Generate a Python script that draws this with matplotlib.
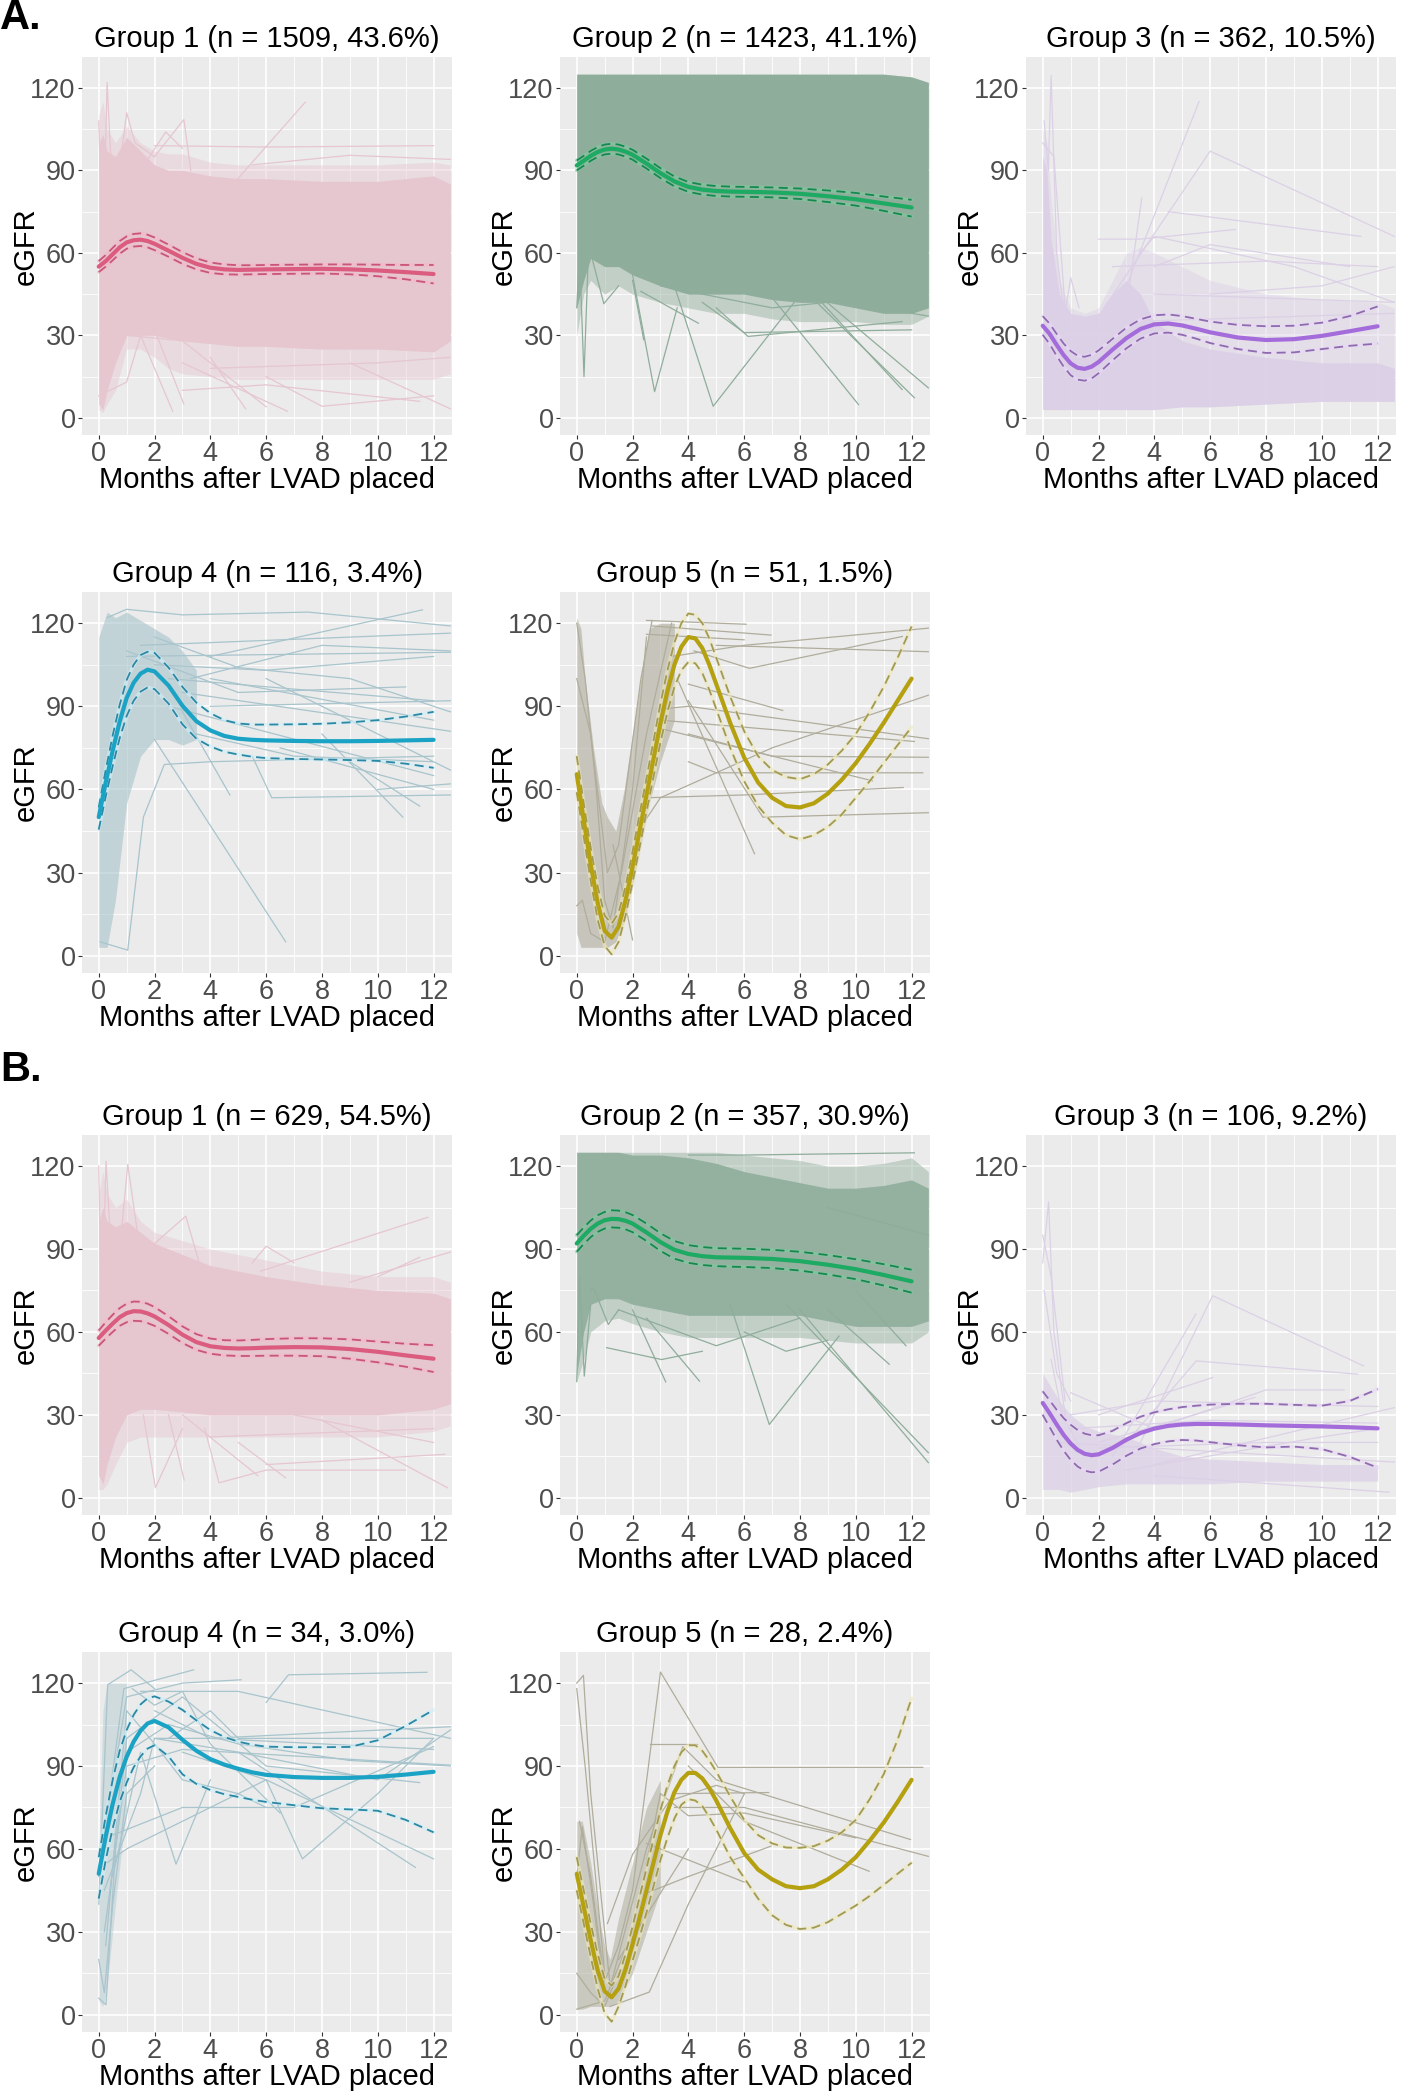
import matplotlib
matplotlib.use("Agg")
import matplotlib.pyplot as plt

plt.rcParams['font.family'] = ['Liberation Sans', 'DejaVu Sans']

# month grids for the fitted curves
months = [0, 0.25, 0.5, 0.75, 1, 1.25, 1.5, 1.75, 2, 2.5, 3, 3.5, 4, 4.5, 5, 5.5, 6, 7, 8, 9, 10, 11, 12]
months_g5 = [0, 0.25, 0.5, 0.75, 1, 1.25, 1.5, 1.75, 2, 2.25, 2.5, 2.75, 3, 3.25, 3.5, 3.75, 4, 4.25,
             4.5, 4.75, 5, 5.5, 6, 6.5, 7, 7.5, 8, 8.5, 9, 9.5, 10, 10.5, 11, 11.5, 12]

# ---------------- cohort A ----------------
a1_mean = [55, 57, 59.5, 62, 63.8, 64.6, 64.8, 64.3, 63.3, 60.8, 58.2, 56, 54.6, 54, 53.8, 53.9, 54, 54.1, 54.2, 54, 53.6, 53, 52.3]
a1_upper = [57, 59.2, 61.8, 64.3, 66, 66.9, 67.1, 66.6, 65.6, 63, 60.3, 58, 56.5, 55.8, 55.5, 55.5, 55.6, 55.7, 55.8, 55.8, 55.7, 55.6, 55.6]
a1_lower = [53, 55, 57.3, 59.7, 61.5, 62.3, 62.5, 62, 61, 58.6, 56, 54, 52.7, 52.2, 52.1, 52.2, 52.3, 52.4, 52.5, 52.2, 51.5, 50.4, 48.9]

a2_mean = [91.8, 93.5, 95.3, 96.7, 97.6, 97.9, 97.6, 96.8, 95.7, 92.5, 89, 86, 84, 83, 82.5, 82.3, 82.2, 82, 81.5, 80.6, 79.5, 78, 76.5]
a2_upper = [93.6, 95.3, 97.1, 98.5, 99.4, 99.7, 99.4, 98.6, 97.5, 94.3, 90.8, 87.8, 85.8, 84.8, 84.3, 84.1, 84, 83.8, 83.4, 82.7, 81.8, 80.5, 79.3]
a2_lower = [90, 91.7, 93.5, 94.9, 95.8, 96.1, 95.8, 95, 93.9, 90.7, 87.2, 84.2, 82.2, 81.2, 80.7, 80.5, 80.4, 80.2, 79.6, 78.5, 77.2, 75.3, 73.2]

a3_mean = [33.5, 30.5, 26.5, 22.8, 19.8, 18.2, 17.8, 18.6, 20.3, 24.8, 29, 32.3, 34, 34.3, 33.6, 32.4, 31.1, 29.2, 28.3, 28.6, 29.8, 31.5, 33.3]
a3_upper = [37, 34.2, 30.5, 27, 24.3, 22.6, 22.2, 22.9, 24.5, 28.7, 32.8, 35.8, 37.3, 37.6, 37, 36, 35, 33.8, 33.3, 33.5, 34.6, 37, 40.5]
a3_lower = [30.2, 26.8, 22.5, 18.6, 15.5, 13.9, 13.5, 14.3, 16.2, 20.9, 25.3, 28.8, 30.7, 31, 30.2, 28.8, 27.2, 25, 23.6, 23.8, 25, 26.2, 27]

a4_mean = [50, 62.5, 74, 84.5, 93, 98.5, 101.8, 103.2, 102.6, 97.5, 90.2, 84.6, 81.3, 79.3, 78.3, 77.9, 77.7, 77.5, 77.4, 77.4, 77.5, 77.7, 77.9]
a4_upper = [53.5, 67, 79.5, 90.5, 99.5, 105, 108.5, 109.7, 109.3, 104, 97, 91.3, 87.5, 85, 83.8, 83.4, 83.4, 83.5, 83.7, 84.2, 85, 86.3, 88]
a4_lower = [45.5, 57.5, 68.5, 78.5, 86.5, 92, 95.3, 96.8, 96.2, 91, 83.5, 78.3, 75.5, 73.6, 72.6, 71.8, 71.3, 71, 70.8, 70.6, 70.3, 69.3, 67.8]

a5_mean = [65.5, 49, 33, 19, 9, 6.5, 10.5, 20, 32, 45, 58, 71, 84, 95.5, 105, 111.5, 115, 114.5,
           111, 105, 98, 84, 71.5, 62.5, 57, 54, 53.5, 55, 58.5, 63.5, 69.5, 76.5, 84, 92, 100]
a5_upper = [72, 55, 39, 25, 14.5, 11.5, 15.5, 25, 37.5, 51, 64, 77.5, 91, 103, 113, 120, 123.5, 123,
            120, 114.5, 107.5, 93.5, 81, 72, 67, 64.5, 63.7, 65.5, 69, 74, 80, 88, 97, 107.5, 118.8]
a5_lower = [59, 43, 27, 13, 3.5, 0.5, 5, 14.5, 26.5, 39, 52, 64.5, 77, 88, 97, 103, 106, 105.5,
            102, 96, 89, 75, 63, 54, 48, 43.5, 42, 43.5, 46.5, 51, 57, 63, 69.5, 76, 82.5]

# ---------------- cohort B ----------------
b1_mean = [57.8, 60.5, 63, 65.3, 66.8, 67.5, 67.4, 66.7, 65.6, 62.5, 59, 56.3, 54.8, 54.2, 54, 54.1, 54.3, 54.5, 54.4, 53.8, 52.8, 51.5, 50.3]
b1_upper = [60.5, 63.5, 66.2, 68.6, 70.2, 71, 70.9, 70.2, 69, 65.7, 62, 59.2, 57.6, 57, 56.9, 57.1, 57.4, 57.7, 57.7, 57.3, 56.5, 55.7, 55.2]
b1_lower = [55, 57.6, 60, 62.2, 63.5, 64, 63.9, 63.2, 62.2, 59.3, 56, 53.5, 52.1, 51.5, 51.3, 51.3, 51.4, 51.4, 51.2, 50.3, 49, 47.4, 45.5]

b2_mean = [92, 94.8, 97.3, 99.2, 100.4, 100.9, 100.8, 100.2, 99.2, 96, 92.5, 89.7, 88.2, 87.4, 87, 86.9, 86.8, 86.4, 85.6, 84.3, 82.7, 80.6, 78.3]
b2_upper = [95, 97.8, 100.3, 102.2, 103.4, 104, 103.9, 103.3, 102.3, 99.2, 95.7, 92.9, 91.4, 90.7, 90.3, 90.2, 90.1, 89.7, 89, 87.8, 86.3, 84.5, 82.5]
b2_lower = [89, 91.8, 94.3, 96.2, 97.4, 97.8, 97.7, 97.1, 96.1, 92.9, 89.3, 86.5, 85, 84.2, 83.8, 83.6, 83.5, 83.1, 82.2, 80.8, 79.1, 76.8, 74.2]

b3_mean = [34.3, 30.5, 26.5, 22.7, 19.6, 17.3, 15.9, 15.4, 15.7, 18, 21, 23.4, 25, 26, 26.5, 26.7, 26.7, 26.5, 26.2, 26, 25.8, 25.5, 25.1]
b3_upper = [38.5, 35.2, 31.8, 28.8, 26.4, 24.5, 23.2, 22.6, 22.6, 24.2, 27, 29.3, 30.9, 32, 32.8, 33.3, 33.7, 34, 34, 33.6, 33.3, 35, 39.3]
b3_lower = [30, 25.5, 21, 17, 13.7, 11.3, 9.8, 9.2, 9.4, 12, 15.2, 17.8, 19.4, 20.4, 20.9, 20.7, 20.1, 19, 18.2, 18.5, 17.6, 14.8, 10.9]

b4_mean = [51, 64.5, 76.3, 86, 93.3, 98.8, 102.8, 105.4, 106.3, 104, 99.5, 95.5, 92.5, 90.5, 89, 87.7, 86.8, 86, 85.7, 85.7, 86.1, 86.9, 87.9]
b4_upper = [57, 72, 85, 95.5, 103, 108.5, 112.3, 114.5, 115.2, 113.3, 110.3, 106.5, 103, 100.5, 98.8, 97.7, 97, 96.8, 96.8, 96.9, 99.3, 104.5, 110.3]
b4_lower = [42, 56, 67.5, 77, 84, 89.5, 93.5, 96.3, 97.5, 93.5, 87, 83.5, 81.3, 79.8, 78.8, 77.8, 77, 75.8, 74.7, 74.3, 73.8, 70.5, 66]

b5_mean = [51, 39, 27, 16, 8.5, 6.3, 9.5, 16.5, 25.5, 35, 45, 55, 65, 73.5, 80.5, 85, 87.5, 87.5,
           85.5, 82, 77.5, 67.5, 58.5, 52.5, 49, 46.5, 45.8, 46.5, 49, 52.5, 57, 63, 69.5, 77, 85]
b5_upper = [57, 45, 33, 22, 13, 10.5, 14, 22, 32, 42.5, 53, 63.5, 74, 83, 90, 95, 97.5, 97.5,
            95.5, 92, 88, 79, 70.5, 65, 62, 60.5, 60.4, 61, 63, 66, 70.5, 78, 87, 99.5, 114.5]
b5_lower = [45, 33, 21, 9.5, 0.5, -2.5, 3, 10.5, 19.5, 28, 37, 46.5, 56, 64, 71, 76, 78, 77.5,
            75.5, 71.5, 67, 57, 49.5, 42, 36, 32.5, 31, 31.5, 33.5, 36.5, 39.5, 43, 47, 51, 55]

# dense mass of individual trajectories: core, and a sparser fringe
a1_band_x = [0, 0.15, 0.3, 0.6, 1, 1.5, 2, 2.5, 3, 4, 5, 6, 8, 10, 12, 12.6]
a1_band_lo = [5, 3, 10, 20, 30, 30, 30, 29, 28, 27, 26, 26, 25, 25, 24, 28]
a1_band_hi = [100, 103, 97, 95, 102, 97, 92, 90, 90, 88, 87, 87, 86, 86, 88, 85]
a1_fringe_lo = [3, 2, 5, 10, 25, 25, 22, 18, 16, 15, 14, 14, 14, 14, 14, 16]
a1_fringe_hi = [110, 115, 105, 100, 106, 100, 97, 96, 96, 93, 92, 92, 92, 92, 93, 92]

a2_band_x = [0, 0.25, 0.5, 1, 1.5, 2, 3, 4, 5, 6, 7, 8, 9, 10, 11, 12, 12.6]
a2_band_lo = [40, 50, 58, 55, 55, 52, 48, 45, 45, 45, 43, 42, 42, 40, 38, 38, 40]
a2_band_hi = [125, 125, 125, 125, 125, 125, 125, 125, 125, 125, 125, 125, 125, 125, 125, 124, 122]
a2_fringe_lo = [30, 45, 50, 45, 48, 45, 42, 40, 38, 38, 36, 35, 35, 35, 34, 34, 37]
a2_fringe_hi = a2_band_hi

a3_band_x = [0, 0.15, 0.3, 0.6, 1, 1.5, 2, 2.5, 3, 3.5, 4, 5, 6, 8, 10, 12, 12.6]
a3_band_lo = [3, 3, 3, 3, 3, 3, 3, 3, 3, 3, 3, 4, 4, 5, 6, 6, 6]
a3_band_hi = [95, 90, 65, 45, 38, 37, 38, 45, 50, 45, 35, 28, 25, 22, 20, 20, 18]
a3_fringe_lo = a3_band_lo
a3_fringe_hi = [105, 100, 80, 50, 40, 38, 40, 50, 60, 62, 60, 55, 50, 45, 43, 42, 40]

a4_band_x = [0, 0.3, 0.6, 1, 1.5, 2, 2.5, 3, 3.5]
a4_band_lo = [3, 3, 20, 55, 72, 78, 78, 76, 78]
a4_band_hi = [115, 124, 122, 124, 121, 118, 115, 110, 103]

a5_band_x = [0, 0.15, 0.3, 0.6, 0.9, 1.1, 1.4, 1.7, 2, 2.3, 2.6, 3, 3.5]
a5_band_lo = [8, 3, 3, 3, 3, 3, 5, 12, 25, 40, 55, 70, 85]
a5_band_hi = [122, 118, 100, 75, 55, 50, 45, 60, 80, 100, 118, 120, 120]

b1_band_x = [0, 0.15, 0.3, 0.6, 1, 1.5, 2, 3, 4, 5, 6, 8, 10, 12, 12.6]
b1_band_lo = [8, 5, 12, 22, 30, 32, 32, 31, 30, 30, 30, 30, 30, 32, 34]
b1_band_hi = [100, 105, 100, 98, 100, 96, 92, 88, 84, 82, 80, 77, 75, 74, 72]
b1_fringe_lo = [3, 3, 5, 12, 20, 22, 22, 22, 22, 22, 22, 22, 22, 24, 26]
b1_fringe_hi = [110, 118, 110, 105, 108, 100, 96, 93, 90, 88, 86, 82, 80, 80, 78]

b2_band_x = [0, 0.25, 0.5, 1, 1.5, 2, 3, 4, 5, 6, 7, 8, 9, 10, 11, 12, 12.6]
b2_band_lo = [45, 60, 70, 72, 72, 70, 68, 66, 66, 66, 66, 66, 64, 62, 62, 62, 64]
b2_band_hi = [125, 125, 125, 125, 125, 124, 124, 123, 121, 118, 116, 114, 112, 112, 113, 115, 112]
b2_fringe_lo = [42, 50, 60, 64, 65, 63, 60, 58, 58, 58, 58, 58, 57, 56, 56, 56, 60]
b2_fringe_hi = [125, 125, 125, 125, 125, 125, 125, 125, 125, 124, 123, 122, 120, 120, 121, 123, 118]

b3_band_x = [0, 0.3, 0.6, 1, 1.5, 2, 3, 4, 5, 6, 8, 10, 12]
b3_band_lo = [3, 3, 3, 2, 3, 4, 5, 5, 5, 5, 6, 6, 6]
b3_band_hi = [45, 40, 35, 30, 26, 24, 22, 18, 15, 14, 13, 12, 12]

b4_band_x = [0, 0.15, 0.3, 0.6, 1]
b4_band_lo = [5, 3, 10, 40, 75]
b4_band_hi = [60, 110, 120, 120, 120]

b5_band_x = [0, 0.2, 0.5, 0.8, 1, 1.2, 1.5, 2, 2.5, 3]
b5_band_lo = [2, 2, 3, 3, 3, 3, 5, 15, 30, 45]
b5_band_hi = [70, 70, 55, 35, 25, 20, 35, 55, 75, 85]

# individual trajectories visible outside the dense mass (month, eGFR)
a1_paths = [
    [(0, 108), (0.15, 60), (0.3, 122), (0.5, 80)],
    [(0.8, 95), (1.0, 111), (1.3, 100), (2.0, 95)],
    [(1.5, 90), (2.4, 104), (3.0, 98)],
    [(2.0, 95), (3.05, 108.5), (3.3, 90)],
    [(4.9, 86), (7.4, 114.8)],
    [(2.0, 99), (6.0, 98.5), (12.0, 99)],
    [(5.5, 92), (9.0, 95.5), (12.6, 94)],
    [(0, 8), (0.4, 10), (1.0, 13), (1.5, 30)],
    [(1.5, 30), (2.65, 2.4)],
    [(2.0, 32), (3.05, 5)],
    [(4.0, 22), (5.26, 3.3)],
    [(3.0, 20), (6.76, 2.4)],
    [(6.0, 15), (8.0, 4.2), (12.0, 8)],
    [(9.0, 20), (12.6, 3.3)],
    [(3.0, 10), (6.0, 12), (11.5, 6)],
    [(4.0, 18), (10.0, 20), (12.6, 22)],
    [(1.0, 30), (3.0, 28), (6.0, 4)],
]
a2_paths = [
    [(0, 40), (0.1, 60), (0.26, 15), (0.4, 55)],
    [(0.5, 60), (0.97, 41.5), (1.5, 48)],
    [(2.0, 52), (2.79, 9.5), (3.6, 40)],
    [(3.5, 48), (4.89, 4.2), (8.1, 46)],
    [(5.0, 40), (6.14, 29.6), (11.66, 35)],
    [(2.3, 46), (4.36, 34.4)],
    [(2.0, 50), (2.4, 28.4)],
    [(6.5, 50), (10.1, 4.8)],
    [(7.8, 52), (12.6, 10.9)],
    [(8.0, 48), (12.1, 7.3)],
    [(8.5, 45), (11.66, 10.3)],
    [(5.0, 50), (12.6, 37)],
    [(3.0, 48), (7.0, 40), (12.0, 45)],
    [(4.5, 42), (6.0, 31), (12.0, 32)],
]
a3_paths = [
    [(0.05, 108), (0.2, 90), (0.3, 124.5), (0.5, 60), (0.8, 35)],
    [(0, 100), (0.4, 95), (0.8, 40)],
    [(0.8, 38), (1.0, 51), (1.3, 40)],
    [(2.5, 35), (5.6, 115)],
    [(2.2, 40), (6.0, 97), (12.6, 66)],
    [(4.5, 75), (11.4, 66)],
    [(2.0, 65), (3.5, 65), (6.9, 68.5)],
    [(3.5, 60), (4.0, 66), (9.0, 55), (12.6, 42)],
    [(3.0, 40), (3.55, 80)],
    [(4.0, 55), (6.0, 63), (11.0, 55)],
    [(2.5, 55), (8.0, 57), (12.0, 55)],
    [(6.0, 45), (10.0, 48), (12.6, 55)],
    [(4.0, 45), (12.6, 42)],
    [(3.0, 35), (12.6, 38)],
]
a4_paths = [
    [(0.3, 122), (1.0, 125), (3.0, 123), (7.5, 124), (12.6, 119)],
    [(4.0, 108), (11.6, 124.8)],
    [(1.5, 112), (12.6, 116.4)],
    [(1.0, 108), (12.6, 109.5)],
    [(2.0, 105), (6.0, 103), (12.0, 108)],
    [(2.5, 100), (12.0, 92)],
    [(2.0, 78), (6.7, 5)],
    [(0.05, 5), (1.04, 2), (1.6, 50), (2.35, 69), (4.0, 70), (12.0, 72)],
    [(5.5, 72), (6.2, 57), (12.6, 58)],
    [(3.0, 88), (4.7, 58)],
    [(8.0, 80), (10.9, 50)],
    [(9.0, 70), (11.5, 54)],
    [(4.0, 100), (12.0, 85)],
    [(3.0, 95), (12.6, 81)],
    [(2.5, 90), (12.0, 65)],
    [(6.0, 100), (12.6, 67)],
    [(10.0, 60), (12.6, 62)],
    [(3.3, 100), (8.0, 112), (12.6, 110)],
    [(1.0, 110), (5.0, 95), (11.0, 97)],
    [(6.5, 75), (12.0, 60)],
    [(4.0, 90), (12.6, 92)],
    [(3.5, 80), (7.0, 72), (12.0, 70)],
    [(2.0, 115), (5.0, 104), (9.0, 100), (12.6, 88)],
]
a5_paths = [
    [(2.5, 121), (6.07, 119.6)],
    [(2.7, 119), (6.96, 115.7)],
    [(2.5, 116), (6.0, 114)],
    [(3.4, 108), (6.0, 112), (12.6, 118.2)],
    [(4.2, 110), (6.19, 103.7), (11.67, 115.2)],
    [(5.0, 112), (12.6, 109.7)],
    [(4.0, 98), (7.38, 88.5)],
    [(3.0, 89), (4.0, 90), (12.6, 78.3)],
    [(3.0, 85), (12.1, 77.3)],
    [(4.0, 80), (7.0, 72), (12.6, 71.6)],
    [(3.0, 82), (10.6, 63.1)],
    [(4.0, 70), (5.0, 66), (12.4, 66)],
    [(2.5, 57), (6.0, 58), (11.7, 60.7)],
    [(2.4, 48), (3.0, 57), (7.0, 75), (12.6, 94)],
    [(3.6, 100), (6.37, 36.8)],
    [(4.0, 92), (6.67, 50), (12.6, 51.6)],
    [(1.3, 40), (2.0, 5.7)],
    [(0, 120), (0.3, 100), (0.7, 60), (1.0, 20), (1.3, 10), (2.0, 60), (2.5, 115)],
    [(0, 100), (0.5, 80), (1.1, 30), (1.5, 40), (2.3, 100), (2.7, 121)],
    [(0, 18), (0.2, 20), (0.5, 8), (1.0, 5), (1.6, 30), (2.5, 80), (3.4, 120)],
]
b1_paths = [
    [(0, 120), (0.1, 60), (0.26, 121.8), (0.5, 80)],
    [(0.8, 95), (1.04, 120.6), (1.4, 95)],
    [(2.0, 92), (3.12, 101.9), (3.6, 85)],
    [(5.5, 85), (6.0, 91), (7.0, 85)],
    [(5.8, 82), (11.8, 101.5)],
    [(9.0, 78), (12.6, 88.9)],
    [(10.0, 80), (11.5, 87)],
    [(1.6, 30), (2.03, 3.6), (3.0, 25)],
    [(2.5, 30), (3.06, 6.4)],
    [(3.8, 25), (4.31, 5.4), (6.0, 10), (9.0, 10), (11.0, 10)],
    [(5.0, 20), (6.7, 7.2)],
    [(3.0, 30), (5.7, 8)],
    [(6.0, 12), (12.4, 15.7)],
    [(8.0, 28), (12.5, 3.6)],
    [(4.0, 22), (12.0, 25)],
    [(7.0, 30), (12.0, 20)],
    [(0.5, 20), (0.7, 25), (1.0, 35)],
]
b2_paths = [
    [(0, 42), (0.1, 80), (0.27, 44), (0.5, 70)],
    [(0.5, 75), (0.6, 76), (1.13, 62.7), (1.5, 68)],
    [(1.07, 54.3), (3.04, 50), (4.5, 53)],
    [(2.0, 68), (3.19, 41.9)],
    [(2.5, 65), (4.4, 42.2)],
    [(5.5, 70), (6.9, 26.5), (9.4, 58.5)],
    [(6.0, 60), (7.5, 53), (9.0, 57)],
    [(7.5, 70), (12.6, 16.3)],
    [(8.0, 68), (12.6, 12.7)],
    [(9.0, 68), (11.2, 48.3)],
    [(10.0, 75), (11.8, 55)],
    [(1.5, 68), (5.0, 55), (8.0, 65)],
    [(4.0, 124), (6.0, 124), (12.1, 124.8)],
    [(9.0, 105), (12.6, 95)],
]
b3_paths = [
    [(0, 85), (0.21, 107), (0.4, 60), (0.8, 30)],
    [(0, 95), (0.3, 80), (0.8, 35)],
    [(0.05, 75), (0.5, 45), (1.0, 35)],
    [(3.5, 20), (6.09, 73.1), (11.5, 47.7)],
    [(2.5, 15), (5.49, 66.5)],
    [(3.0, 20), (5.5, 49.5), (11.3, 44.7)],
    [(2.0, 30), (6.09, 43.5)],
    [(1.0, 38), (4.0, 25), (8.0, 39), (10.8, 39)],
    [(2.0, 20), (7.6, 36.3)],
    [(1.0, 30), (4.0, 35), (12.0, 33)],
    [(4.0, 12), (12.6, 32.6)],
    [(0.5, 20), (12.6, 12.9)],
    [(4.0, 8), (12.4, 2)],
    [(1.0, 25), (6.0, 28), (12.0, 27)],
    [(2.0, 18), (8.0, 20), (12.0, 20)],
    [(3.0, 10), (10.0, 22), (12.0, 25)],
    [(0.3, 50), (0.7, 30), (1.5, 15)],
]
b4_paths = [
    [(0, 6), (0.26, 3.6), (0.6, 60), (1.0, 100)],
    [(0, 40), (0.32, 119.4), (1.16, 124.8), (2.0, 118)],
    [(0, 50), (0.9, 118), (3.4, 124.8)],
    [(0.1, 60), (1.0, 115), (3.0, 120), (5.1, 121.2)],
    [(6.0, 113), (6.8, 123), (11.76, 123.9)],
    [(1.5, 117), (5.0, 117), (12.6, 100)],
    [(2.0, 110), (4.0, 100), (8.0, 102), (12.6, 104.2)],
    [(0.2, 30), (1.0, 90), (3.0, 96), (12.6, 90.3)],
    [(0.5, 50), (1.5, 95), (2.77, 54.5), (4.0, 85)],
    [(0.3, 55), (1.0, 60), (3.0, 70), (6.0, 85), (7.3, 56.4), (10.0, 80), (12.0, 100)],
    [(2.0, 100), (5.0, 95), (11.35, 53.3)],
    [(3.0, 95), (6.0, 85), (12.0, 56.4)],
    [(1.0, 100), (3.0, 115), (6.0, 90), (11.5, 84)],
    [(0.2, 45), (1.5, 80), (2.0, 100), (4.0, 100), (12.0, 96)],
    [(0.5, 65), (3.0, 75), (7.0, 75), (12.0, 97)],
    [(0.3, 70), (1.0, 95), (2.5, 105), (5.0, 98), (9.0, 92), (12.6, 90)],
    [(1.2, 118), (2.0, 112), (3.0, 117), (4.0, 98), (6.5, 73)],
    [(0.25, 25), (1.0, 110), (2.0, 98), (3.0, 85), (5.0, 80), (6.0, 75)],
    [(2.5, 100), (4.0, 110), (5.0, 100), (12.0, 100)],
    [(5.0, 95), (10.0, 85), (12.6, 103)],
    [(0, 20), (0.2, 8), (0.5, 40), (1.0, 80), (2.0, 90)],
]
b5_paths = [
    [(0, 120), (0.24, 122.8), (0.5, 80), (1.0, 30), (1.2, 10)],
    [(0, 118), (0.3, 90), (1.0, 15)],
    [(0.1, 70), (0.5, 50), (1.0, 12), (1.5, 25), (2.0, 45), (3.0, 124), (5.06, 89.5), (12.4, 89.5)],
    [(2.62, 98), (4.3, 98)],
    [(1.1, 33), (2.0, 58), (3.5, 80), (6.88, 80.4)],
    [(1.2, 10), (2.5, 60), (3.8, 97), (5.0, 85), (11.96, 63.4)],
    [(3.5, 75), (6.0, 75), (12.6, 57.3)],
    [(4.0, 90), (6.0, 70), (10.48, 51.9)],
    [(2.5, 62), (6.0, 48)],
    [(2.5, 44), (4.0, 50), (6.96, 61)],
    [(1.2, 3), (2.6, 8.2), (4.0, 40), (6.0, 79.8)],
    [(1.5, 20), (4.0, 60)],
    [(3.0, 80), (4.0, 72), (6.0, 73), (10.0, 64)],
    [(3.5, 78), (5.0, 83), (6.0, 80)],
    [(0, 50), (0.2, 68), (0.6, 40), (1.0, 8)],
    [(0, 15), (0.5, 8), (1.0, 3), (1.5, 15)],
    [(0, 2), (1.0, 5), (2.0, 30), (3.0, 80)],
]

titles_a = ["Group 1 (n = 1509, 43.6%)", "Group 2 (n = 1423, 41.1%)", "Group 3 (n = 362, 10.5%)",
            "Group 4 (n = 116, 3.4%)", "Group 5 (n = 51, 1.5%)"]
titles_b = ["Group 1 (n = 629, 54.5%)", "Group 2 (n = 357, 30.9%)", "Group 3 (n = 106, 9.2%)",
            "Group 4 (n = 34, 3.0%)", "Group 5 (n = 28, 2.4%)"]

# colours per group: spaghetti, fitted mean, CI dashes, CI halo
spag_col = ['#E6C6CF', '#8FAD9B', '#DCD0E6', '#A8C4CC', '#B0AD9C']
mean_col = ['#DC5C80', '#1DAA62', '#A46BDB', '#1BA3C6', '#B5A010']
ci_col = ['#C8567A', '#16884E', '#8E6AAE', '#2B87A3', '#A19A55']
halo_col = ['#F2B8C8', '#7FC9A0', '#E8D8F6', '#CDEFF7', '#EFE8B8']

W, H = 1408, 2100
fig = plt.figure(figsize=(W / 100, H / 100), dpi=100)


def rect(l, t, r, b):
    return [l / W, 1 - b / H, (r - l) / W, (b - t) / H]


def draw_panel(box, title, g, x, mean, upper, lower, band, band_alpha, fringe, paths):
    ax = fig.add_axes(rect(*box))
    ax.set_facecolor('#EBEBEB')
    for s in ax.spines.values():
        s.set_visible(False)
    ax.set_xlim(-0.6, 12.66)
    ax.set_ylim(-6.25, 131.25)
    ax.set_xticks([0, 2, 4, 6, 8, 10, 12])
    ax.set_xticks([1, 3, 5, 7, 9, 11], minor=True)
    ax.set_yticks([0, 30, 60, 90, 120])
    ax.set_yticks([15, 45, 75, 105], minor=True)
    ax.grid(which='major', color='white', lw=1.2)
    ax.grid(which='minor', color='white', lw=0.6)
    ax.set_axisbelow(True)
    ax.tick_params(which='major', length=3, width=0.8, color='#333333',
                   labelsize=19.5, labelcolor='#4D4D4D', pad=1.5)
    ax.tick_params(which='minor', length=0)

    sc = spag_col[g]
    if fringe is not None:
        ax.fill_between(band[0], fringe[0], fringe[1], color=sc, lw=0, alpha=0.45)
    ax.fill_between(band[0], band[1], band[2], color=sc, lw=0, alpha=band_alpha)
    for p in paths:
        ax.plot([q[0] for q in p], [q[1] for q in p], color=sc, lw=0.9)

    for ci in (upper, lower):
        ax.plot(x, ci, color=halo_col[g], lw=2.6, alpha=0.6, solid_capstyle='round')
    for ci in (upper, lower):
        ax.plot(x, ci, color=ci_col[g], lw=1.3, dashes=(5, 3))
    ax.plot(x, mean, color=mean_col[g], lw=3.0, solid_capstyle='round')

    ax.set_title(title, fontsize=21, pad=7)
    ax.set_xlabel('Months after LVAD placed', fontsize=21, va='center')
    ax.set_ylabel('eGFR', fontsize=21, va='center')
    ax.xaxis.set_label_coords(0.5, -0.118)
    ax.yaxis.set_label_coords(-0.152, 0.5)
    return ax


cols = [(82, 452), (560, 930), (1026, 1396)]
rows_a = [(57, 435), (592, 973)]
rows_b = [(1135, 1515), (1652, 2032)]

a_data = [
    (months, a1_mean, a1_upper, a1_lower, (a1_band_x, a1_band_lo, a1_band_hi), 1.0, (a1_fringe_lo, a1_fringe_hi), a1_paths),
    (months, a2_mean, a2_upper, a2_lower, (a2_band_x, a2_band_lo, a2_band_hi), 1.0, (a2_fringe_lo, a2_fringe_hi), a2_paths),
    (months, a3_mean, a3_upper, a3_lower, (a3_band_x, a3_band_lo, a3_band_hi), 0.95, (a3_fringe_lo, a3_fringe_hi), a3_paths),
    (months, a4_mean, a4_upper, a4_lower, (a4_band_x, a4_band_lo, a4_band_hi), 0.6, None, a4_paths),
    (months_g5, a5_mean, a5_upper, a5_lower, (a5_band_x, a5_band_lo, a5_band_hi), 0.6, None, a5_paths),
]
b_data = [
    (months, b1_mean, b1_upper, b1_lower, (b1_band_x, b1_band_lo, b1_band_hi), 1.0, (b1_fringe_lo, b1_fringe_hi), b1_paths),
    (months, b2_mean, b2_upper, b2_lower, (b2_band_x, b2_band_lo, b2_band_hi), 0.9, (b2_fringe_lo, b2_fringe_hi), b2_paths),
    (months, b3_mean, b3_upper, b3_lower, (b3_band_x, b3_band_lo, b3_band_hi), 0.75, None, b3_paths),
    (months, b4_mean, b4_upper, b4_lower, (b4_band_x, b4_band_lo, b4_band_hi), 0.4, None, b4_paths),
    (months_g5, b5_mean, b5_upper, b5_lower, (b5_band_x, b5_band_lo, b5_band_hi), 0.55, None, b5_paths),
]

for rows, titles, data in ((rows_a, titles_a, a_data), (rows_b, titles_b, b_data)):
    for i in range(5):
        r = rows[i // 3]
        c = cols[i % 3]
        draw_panel((c[0], r[0], c[1], r[1]), titles[i], i, *data[i])

fig.text(0.0, 1 + 2 / H, 'A.', fontsize=30, fontweight='bold', va='top', ha='left')
fig.text(0.0, 1 - 1050 / H, 'B.', fontsize=30, fontweight='bold', va='top', ha='left')

fig.savefig('out.png', dpi=100)
